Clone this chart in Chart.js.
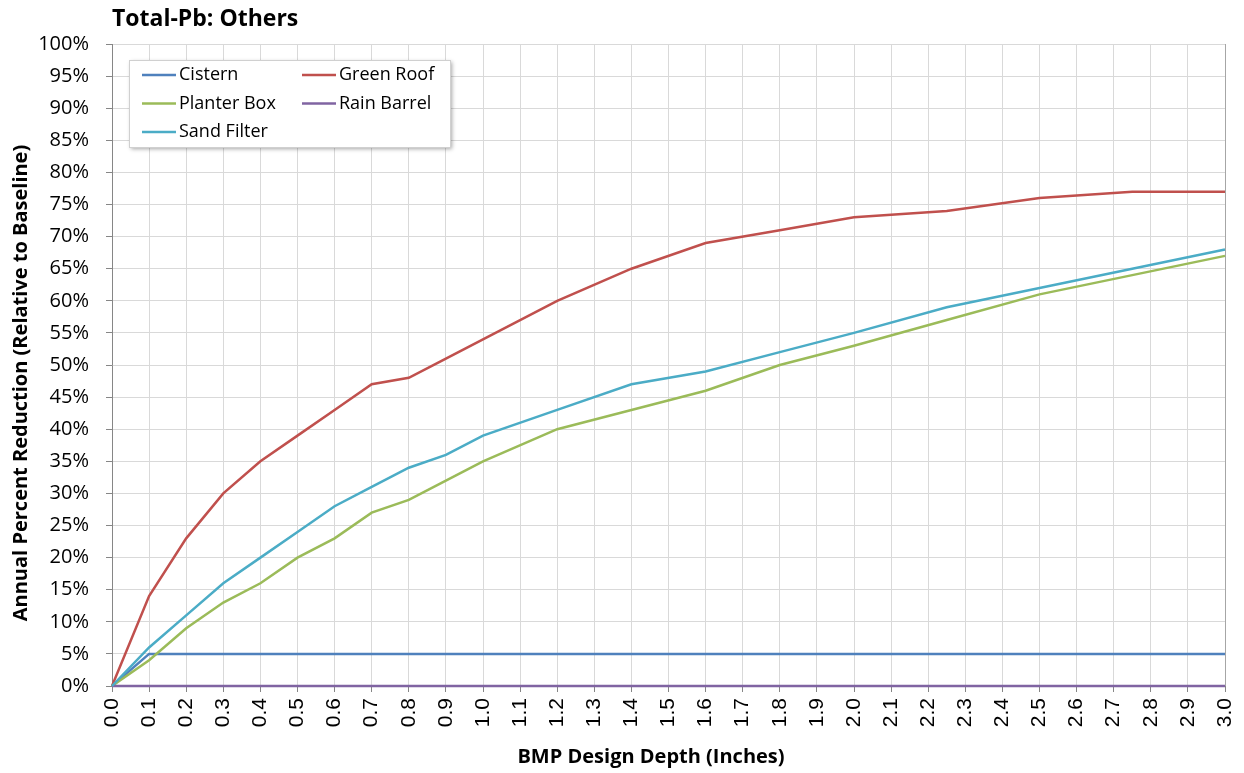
<!DOCTYPE html>
<html>
<head>
<meta charset="utf-8">
<script src="https://cdn.jsdelivr.net/npm/chart.js@4/dist/chart.umd.min.js"></script>
<style>
  body { margin: 0; background: #fff; }
  #wrap { width: 1244px; height: 773px; position: relative; }
</style>
</head>
<body>
<div id="wrap"><canvas id="myChart"></canvas></div>
<script>
// design depth (inches) where each value was read
const depths = [0.0, 0.1, 0.2, 0.3, 0.4, 0.5, 0.6, 0.7, 0.8, 0.9, 1.0, 1.2, 1.4, 1.6, 1.8, 2.0, 2.25, 2.5, 2.75, 3.0];

const cistern    = [0, 5, 5, 5, 5, 5, 5, 5, 5, 5, 5, 5, 5, 5, 5, 5, 5, 5, 5, 5];
const greenRoof  = [0, 14, 23, 30, 35, 39, 43, 47, 48, 51, 54, 60, 65, 69, 71, 73, 74, 76, 77, 77];
const planterBox = [0, 4, 9, 13, 16, 20, 23, 27, 29, 32, 35, 40, 43, 46, 50, 53, 57, 61, 64, 67];
const rainBarrel = [0, 0, 0, 0, 0, 0, 0, 0, 0, 0, 0, 0, 0, 0, 0, 0, 0, 0, 0, 0];
const sandFilter = [0, 6, 11, 16, 20, 24, 28, 31, 34, 36, 39, 43, 47, 49, 52, 55, 59, 62, 65, 68];

const seriesNames = ['Cistern', 'Green Roof', 'Planter Box', 'Rain Barrel', 'Sand Filter'];
const seriesColors = ['#4F81BD', '#C0504D', '#9BBB59', '#8064A2', '#4BACC6'];
const seriesValues = [cistern, greenRoof, planterBox, rainBarrel, sandFilter];

const FONT = "'Open Sans', 'Liberation Sans', sans-serif";

function toPoints(vals) {
    return vals.map((v, i) => ({ x: depths[i], y: v }));
}

const datasets = seriesNames.map((name, i) => {
    return {
        label: name,
        data: toPoints(seriesValues[i]),
        borderColor: seriesColors[i],
        backgroundColor: seriesColors[i],
        borderWidth: 2.5,
        pointRadius: 0,
        tension: 0,
        clip: false,
        order: seriesNames.length - i,
    };
});

// chart title and the two axis titles (placed like the Excel original)
const titlePlugin = {
    id: 'titles',
    afterDraw(chart) {
        const ctx = chart.ctx;
        ctx.save();
        ctx.fillStyle = '#000';
        ctx.textBaseline = 'middle';
        ctx.textAlign = 'left';
        ctx.font = "bold 23px " + FONT;
        ctx.fillText('Total-Pb: Others', 112, 19);

        ctx.textAlign = 'center';
        ctx.font = "bold 20px " + FONT;
        ctx.fillText('BMP Design Depth (Inches)', 651, 757);

        ctx.translate(21, 383);
        ctx.rotate(-Math.PI / 2);
        ctx.fillText('Annual Percent Reduction (Relative to Baseline)', 0, 0);
        ctx.restore();
    },
};

// boxed legend inside the plot, two columns
const boxLegend = {
    id: 'boxLegend',
    afterDatasetsDraw(chart) {
        const ctx = chart.ctx;
        const bx = 129, by = 60, bw = 321, bh = 87;
        ctx.save();
        ctx.shadowColor = 'rgba(0,0,0,0.35)';
        ctx.shadowBlur = 4;
        ctx.shadowOffsetX = 2;
        ctx.shadowOffsetY = 2;
        ctx.fillStyle = '#fff';
        ctx.fillRect(bx, by, bw, bh);
        ctx.shadowColor = 'transparent';
        ctx.strokeStyle = '#d0d0d0';
        ctx.lineWidth = 1;
        ctx.strokeRect(bx + 0.5, by + 0.5, bw, bh);

        ctx.font = "18px " + FONT;
        ctx.textBaseline = 'middle';
        ctx.fillStyle = '#000';
        chart.data.datasets.forEach((ds, i) => {
            const col = i % 2, row = Math.floor(i / 2);
            const x = col === 0 ? 142 : 302;
            const y = 75 + row * 28.5;
            ctx.strokeStyle = ds.borderColor;
            ctx.lineWidth = 2.5;
            ctx.beginPath();
            ctx.moveTo(x, y);
            ctx.lineTo(x + 34, y);
            ctx.stroke();
            ctx.fillText(ds.label, x + 37, y);
        });
        ctx.restore();
    },
};

const config = {
    type: 'line',
    data: { datasets: datasets },
    options: {
        responsive: true,
        maintainAspectRatio: false,
        animation: false,
        layout: { padding: { top: 44, right: 19, bottom: 0, left: 0 } },
        plugins: {
            legend: { display: false },
            title: { display: false },
            tooltip: { enabled: false },
        },
        scales: {
            x: {
                type: 'linear',
                min: 0,
                max: 3,
                afterFit: (scale) => {
                    scale.height = 87;
                    scale.paddingLeft = 0;
                    scale.paddingRight = 0;
                },
                ticks: {
                    stepSize: 0.1,
                    autoSkip: false,
                    maxRotation: 90,
                    minRotation: 90,
                    padding: 6,
                    color: '#000',
                    font: { family: "'Liberation Sans', Arial, sans-serif", size: 21 },
                    callback: (v) => Number(v).toFixed(1),
                },
                grid: {
                    color: (c) => (c.tick && Math.abs(c.tick.value - 3) < 1e-6 ? '#a6a6a6' : '#d9d9d9'),
                    tickColor: '#868686',
                    tickLength: 6,
                },
                border: { color: '#868686' },
            },
            y: {
                min: 0,
                max: 100,
                afterFit: (scale) => { scale.width = 112; },
                ticks: {
                    stepSize: 5,
                    padding: 17,
                    color: '#000',
                    font: { family: FONT, size: 20 },
                    callback: (v) => v + '%',
                },
                grid: {
                    color: '#d9d9d9',
                    tickColor: '#868686',
                    tickLength: 6,
                },
                border: { color: '#868686' },
            },
        },
    },
    plugins: [titlePlugin, boxLegend],
};

const myChart = new Chart(document.getElementById('myChart'), config);
</script>
</body>
</html>
